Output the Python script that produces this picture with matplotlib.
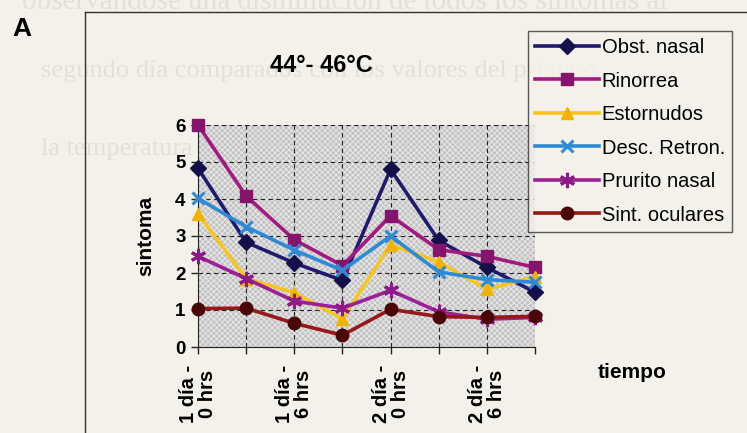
import matplotlib
matplotlib.use("Agg")
import matplotlib.pyplot as plt
from matplotlib.patches import Rectangle
from matplotlib.lines import Line2D

plt.rcParams['font.family'] = ['Liberation Sans', 'DejaVu Sans']
plt.rcParams['hatch.linewidth'] = 0.6

# data (symptom score over time)
x_pos = [0, 1, 2, 3, 4, 5, 6, 7]
tick_pos = [0, 2, 4, 6]
tick_labels = ["1 día -\n0 hrs", "1 día -\n6 hrs", "2 día -\n0 hrs", "2 día -\n6 hrs"]

obst_nasal = [4.83, 2.83, 2.27, 1.8, 4.8, 2.88, 2.15, 1.48]
rinorrea = [6.0, 4.08, 2.9, 2.2, 3.55, 2.63, 2.45, 2.15]
estornudos = [3.6, 1.85, 1.47, 0.76, 2.76, 2.3, 1.56, 1.9]
desc_retron = [4.02, 3.25, 2.62, 2.07, 3.0, 2.03, 1.82, 1.75]
prurito_nasal = [2.45, 1.85, 1.24, 1.05, 1.53, 0.95, 0.75, 0.8]
sint_oculares = [1.04, 1.05, 0.64, 0.32, 1.02, 0.82, 0.8, 0.83]

series = [
    ("Obst. nasal", obst_nasal, "#201a6e", "#14104a", "D", 8),
    ("Rinorrea", rinorrea, "#a3197f", "#86146e", "s", 8),
    ("Estornudos", estornudos, "#f7c51e", "#f0b400", "^", 9),
    ("Desc. Retron.", desc_retron, "#2f8ad6", "#2f8ad6", "x", 9),
    ("Prurito nasal", prurito_nasal, "#9c1f98", "#8e1a8a", (6, 2, 0), 11),
    ("Sint. oculares", sint_oculares, "#971818", "#4a0606", "o", 9),
]

bg = "#f3f1ea"
fig = plt.figure(figsize=(7.47, 4.33), dpi=100, facecolor=bg)

# faint bleed-through text from the scanned page
ghost = "#e2e0d9"
fig.text(0.03, 0.995, "observándose una disminución de todos los síntomas al",
         fontsize=21, family="Liberation Serif", color=ghost, va="center", zorder=0)
fig.text(0.055, 0.835, "segundo día comparados con los valores del primero",
         fontsize=19, family="Liberation Serif", color=ghost, va="center", zorder=0)
fig.text(0.055, 0.655, "la temperatura",
         fontsize=19, family="Liberation Serif", color=ghost, va="center", zorder=0)

# chart frame (left and top edges)
fig.add_artist(Line2D([85 / 747, 85 / 747], [0, 1 - 12 / 433], color="#333333", lw=1.0))
fig.add_artist(Line2D([85 / 747, 1], [1 - 12 / 433, 1 - 12 / 433], color="#333333", lw=1.0))

fig.text(22 / 747, 1 - 29 / 433, "A", fontsize=19, fontweight="bold", ha="center", va="center")

ax = fig.add_axes([198 / 747, 1 - 347 / 433, 337 / 747, 222 / 433])
ax.set_facecolor("none")
ax.add_patch(Rectangle((0, 0), 7, 6, facecolor="#c2c2c2", edgecolor="#ececec",
                       hatch="xxxxxx", lw=0, zorder=0))

for label, vals, lc, mc, mk, ms in series:
    mew = 2.2 if mk == "x" or isinstance(mk, tuple) else 1
    ax.plot(x_pos, vals, color=lc, lw=2.6, marker=mk, markersize=ms,
            markerfacecolor=mc, markeredgecolor=mc, markeredgewidth=mew,
            label=label, clip_on=False, zorder=3)

ax.set_xlim(0, 7)
ax.set_ylim(0, 6)
ax.set_xticks(x_pos)
ax.set_xticklabels(["" for _ in x_pos])
for p, t in zip(tick_pos, tick_labels):
    ax.text(p, -0.48, t, rotation=90, ha="center", va="top", fontsize=14.5,
            fontweight="bold", multialignment="center", linespacing=1.0)
ax.set_yticks(range(7))
ax.set_yticklabels([str(i) for i in range(7)], fontsize=13.5, fontweight="bold")
ax.tick_params(axis="both", direction="out", length=5, width=1, colors="#222222", pad=4)
ax.tick_params(axis="y", labelcolor="black")

ax.grid(True, color="#222222", linestyle=(0, (4, 3)), lw=0.8, zorder=1)
for side in ["top", "right"]:
    ax.spines[side].set_visible(False)
ax.spines["left"].set_color("#222222")
ax.spines["bottom"].set_color("#222222")

ax.set_ylabel("sintoma", fontsize=15, fontweight="bold", labelpad=14)
fig.text(632 / 747, 1 - 373 / 433, "tiempo", fontsize=15, fontweight="bold",
         ha="center", va="center")
fig.text(321 / 747, 1 - 65 / 433, "44°- 46°C", fontsize=17, fontweight="bold",
         ha="center", va="center")

leg = fig.legend(loc="upper left", bbox_to_anchor=(528 / 747, 1 - 31 / 433),
                 fontsize=14.5, frameon=True, fancybox=False, handlelength=3.2,
                 handletextpad=0.1, labelspacing=0.72, borderpad=0.35,
                 borderaxespad=0)
leg.get_frame().set_edgecolor("#333333")
leg.get_frame().set_facecolor(bg)
leg.get_frame().set_linewidth(1.0)

fig.savefig("out.png", dpi=100, facecolor=bg)
